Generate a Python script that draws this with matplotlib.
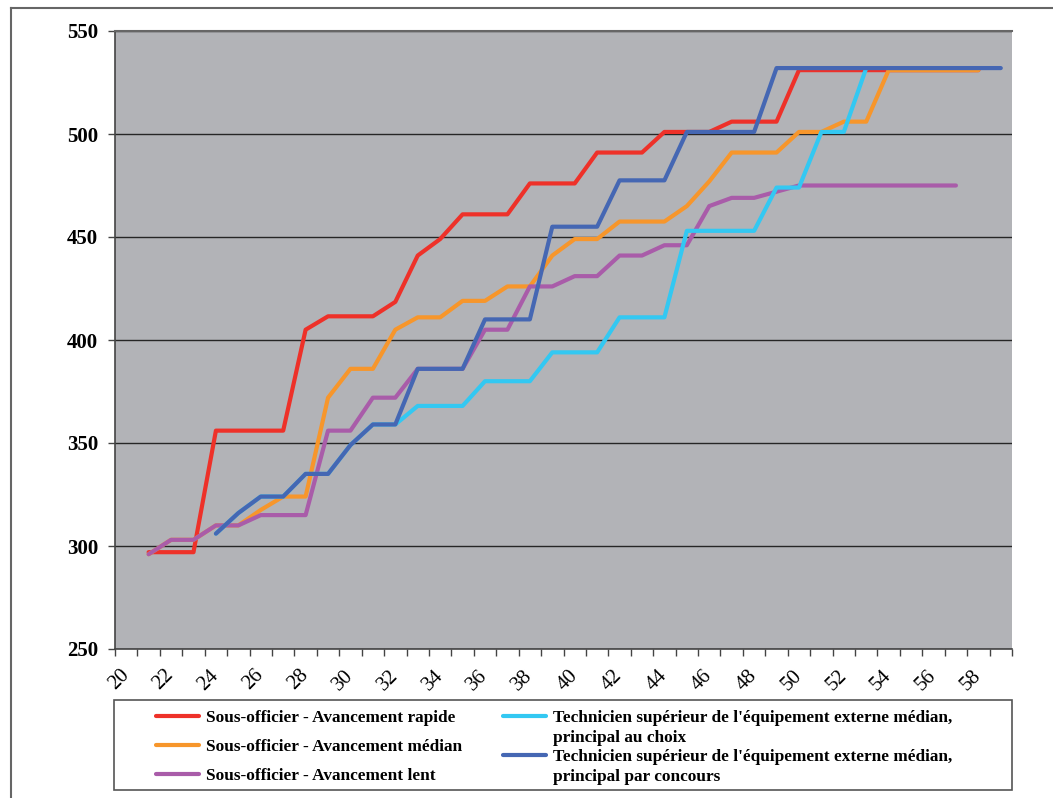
import numpy as np
import matplotlib
matplotlib.use('Agg')
import matplotlib.pyplot as plt
from matplotlib.lines import Line2D
from matplotlib.patches import Rectangle

plt.rcParams['font.family'] = ['Liberation Serif', 'DejaVu Serif']

# ages (x) and indices (y) for each career path
ages_rapide = list(range(21, 59))
rapide = [297, 297, 297, 356, 356, 356, 356, 405, 411.5, 411.5, 411.5, 418.5,
          441, 449, 461, 461, 461, 476, 476, 476, 491, 491, 491, 501, 501, 501,
          506, 506, 506, 531, 531, 531, 531, 531, 531, 531, 531, 531]

ages_median = list(range(21, 59))
median = [296, 303, 303, 310, 310, 317.5, 324, 324, 372, 386, 386, 405,
          411, 411, 419, 419, 426, 426, 441, 449, 449, 457.5, 457.5, 457.5,
          465, 477, 491, 491, 491, 501, 501, 506, 506, 531, 531, 531, 531, 531]

ages_lent = list(range(21, 58))
lent = [296, 303, 303, 310, 310, 315, 315, 315, 356, 356, 372, 372, 386,
        386, 386, 405, 405, 426, 426, 431, 431, 441, 441, 446, 446, 465, 469,
        469, 472, 475, 475, 475, 475, 475, 475, 475, 475]

ages_choix = list(range(24, 54))
choix = [306, 316, 324, 324, 335, 335, 349, 359, 359, 368, 368, 368, 380,
         380, 380, 394, 394, 394, 411, 411, 411, 453, 453, 453, 453, 474, 474,
         501, 501, 532]

ages_concours = list(range(24, 60))
concours = [306, 316, 324, 324, 335, 335, 349, 359, 359, 386, 386, 386, 410,
            410, 410, 455, 455, 455, 477.5, 477.5, 477.5, 501, 501, 501, 501,
            532, 532, 532, 532, 532, 532, 532, 532, 532, 532, 532]

labels = ['Sous-officier - Avancement rapide',
          'Sous-officier - Avancement médian',
          'Sous-officier - Avancement lent',
          "Technicien supérieur de l'équipement externe médian,",
          "Technicien supérieur de l'équipement externe médian,"]
second_lines = ['principal au choix', 'principal par concours']
colors = ['#EE3129', '#F7962B', '#A95CA9', '#33C8F2', '#4567B3']

fig = plt.figure(figsize=(10.53, 7.98), dpi=100)
ax = fig.add_axes([115/1053, 1-649/798, 897/1053, 618/798])
ax.set_facecolor('#B2B3B7')

series = [(ages_rapide, rapide), (ages_median, median), (ages_lent, lent),
          (ages_choix, choix), (ages_concours, concours)]
lines = []
for (x, y), c, lab in zip(series, colors, labels):
    l, = ax.plot(x, y, color=c, lw=3.0, solid_capstyle='round',
                 solid_joinstyle='round', label=lab)
    lines.append(l)

ax.set_xlim(19.5, 59.5)
ax.set_ylim(250, 550)
ax.set_yticks(np.arange(250, 551, 50))
ax.set_xticks(np.arange(20, 59, 2))
ax.set_xticks(np.arange(19.5, 60, 1), minor=True)
ax.yaxis.grid(True, color='#262626', lw=1.0)
ax.set_axisbelow(True)

for lab in ax.get_yticklabels():
    lab.set_fontweight('bold')
ax.tick_params(axis='y', direction='out', length=5, width=1, color='#444444',
               labelsize=15, pad=7)
ax.tick_params(axis='x', which='major', length=0, labelsize=15, pad=17)
ax.tick_params(axis='x', which='minor', direction='out', length=5, width=1,
               color='#444444')
plt.setp(ax.get_xticklabels(), rotation=45, ha='right', va='center',
         rotation_mode='anchor')

ax.spines['right'].set_visible(False)
ax.spines['top'].set_color('#666666')
ax.spines['top'].set_linewidth(1.5)
for s in ['left', 'bottom']:
    ax.spines[s].set_color('#444444')
    ax.spines[s].set_linewidth(1.2)

# legend: three short entries on the left, two-line entries on the right
blank = Line2D([], [], color='none')
legend_font = {'weight': 'bold', 'size': 12.4}
leg1 = fig.legend(lines[:3], labels[:3], loc='upper left',
                  bbox_to_anchor=(156/1053, 1-710/798), frameon=False,
                  borderpad=0, borderaxespad=0, handlelength=2.5,
                  handletextpad=0.4, labelspacing=0.74, prop=legend_font)
leg2 = fig.legend([lines[3], blank, lines[4], blank],
                  [labels[3], second_lines[0], labels[4], second_lines[1]],
                  loc='upper left', bbox_to_anchor=(503/1053, 1-710/798),
                  frameon=False, borderpad=0, borderaxespad=0,
                  handlelength=2.5, handletextpad=0.4, labelspacing=0.21,
                  prop=legend_font)
for leg in (leg1, leg2):
    for h in leg.legend_handles:
        h.set_linewidth(3.0)

fig.patches.append(Rectangle((114/1053, 1-790/798), 898/1053, 90/798,
                             transform=fig.transFigure, fill=False,
                             edgecolor='#555555', lw=1.2))

# outer frame (top and left edges)
fig.add_artist(Line2D([10.7/1053, 1], [1-7.5/798, 1-7.5/798],
                      transform=fig.transFigure, color='#666666', lw=1.5))
fig.add_artist(Line2D([10.7/1053, 10.7/1053], [0, 1-7.5/798],
                      transform=fig.transFigure, color='#666666', lw=1.5))

fig.savefig('out.png', dpi=100, facecolor='white')
